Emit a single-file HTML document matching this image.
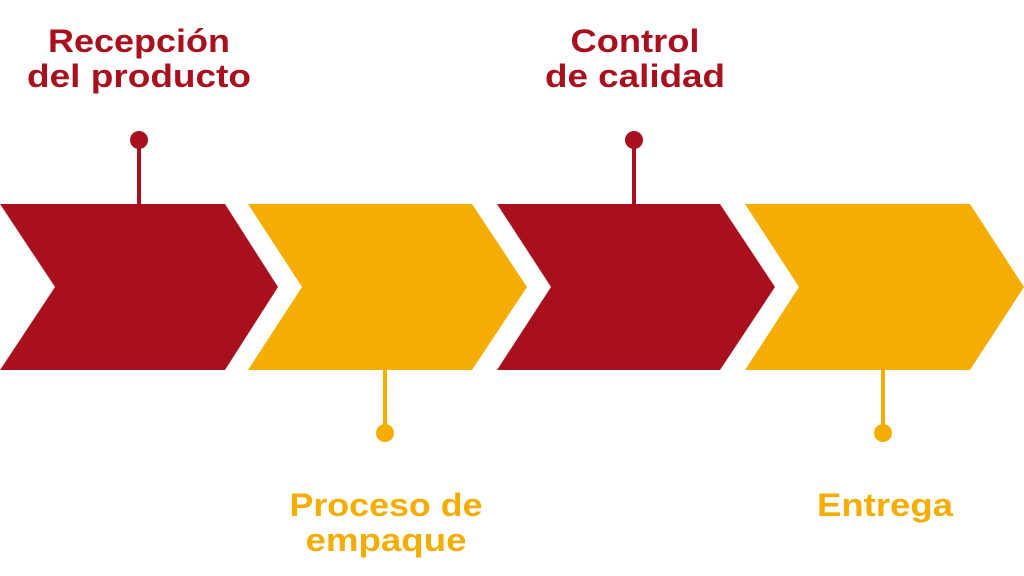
<!DOCTYPE html>
<html><head><meta charset="utf-8"><style>
html,body{margin:0;padding:0;background:#fff;width:1024px;height:576px;overflow:hidden}
svg{display:block}
text{font-family:"Liberation Sans",sans-serif;font-weight:bold;font-size:32px;text-anchor:middle}
</style></head><body>
<svg width="1024" height="576" viewBox="0 0 1024 576">
<polygon points="0,204 225,204 278,287 225,370 0,370 55,287" fill="#a8101e"/>
<polygon points="248,204 472,204 527,287 472,370 248,370 302,287" fill="#f4ad00"/>
<polygon points="497,204 720,204 775,287 720,370 497,370 551,287" fill="#a8101e"/>
<polygon points="745,204 970,204 1024,287 970,370 745,370 799,287" fill="#f4ad00"/>
<line x1="139" y1="140" x2="139" y2="205" stroke="#a8101e" stroke-width="4"/>
<circle cx="139" cy="140" r="9" fill="#a8101e"/>
<line x1="634" y1="140" x2="634" y2="205" stroke="#a8101e" stroke-width="4"/>
<circle cx="634" cy="140" r="9" fill="#a8101e"/>
<line x1="385" y1="369" x2="385" y2="433" stroke="#f4ad00" stroke-width="4"/>
<circle cx="385" cy="433" r="9" fill="#f4ad00"/>
<line x1="883" y1="369" x2="883" y2="433" stroke="#f4ad00" stroke-width="4"/>
<circle cx="883" cy="433" r="9" fill="#f4ad00"/>
<text x="139" y="52" fill="#a8101e" textLength="182" lengthAdjust="spacingAndGlyphs">Recepción</text>
<text x="139" y="87" fill="#a8101e" textLength="224" lengthAdjust="spacingAndGlyphs">del producto</text>
<text x="635" y="52" fill="#a8101e" textLength="129" lengthAdjust="spacingAndGlyphs">Control</text>
<text x="635" y="87" fill="#a8101e" textLength="180" lengthAdjust="spacingAndGlyphs">de calidad</text>
<text x="386" y="516" fill="#f4ad00" textLength="193" lengthAdjust="spacingAndGlyphs">Proceso de</text>
<text x="386" y="551" fill="#f4ad00" textLength="161" lengthAdjust="spacingAndGlyphs">empaque</text>
<text x="885" y="516" fill="#f4ad00" textLength="136" lengthAdjust="spacingAndGlyphs">Entrega</text>
</svg>
</body></html>
